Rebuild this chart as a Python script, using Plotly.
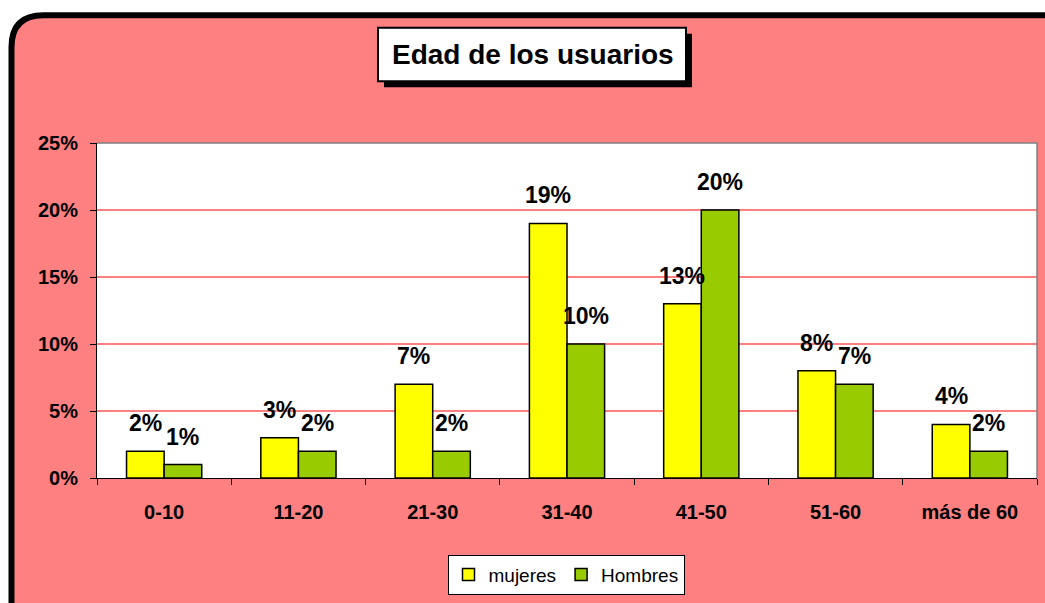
import plotly.graph_objects as go

# datos
categorias = ["0-10", "11-20", "21-30", "31-40", "41-50", "51-60", "más de 60"]
mujeres = [2, 3, 7, 19, 13, 8, 4]
hombres = [1, 2, 2, 10, 20, 7, 2]
ticks_y = [0, 5, 10, 15, 20, 25]

FUENTE = "Liberation Sans, Arial, sans-serif"
W, H = 1045, 603
L, R, T, B = 97, 8, 143, 123
PW, PH = W - L - R, H - T - B


def px(x):
    """pixel horizontal -> coordenada paper"""
    return (x - L) / PW


def py(y):
    """pixel vertical -> coordenada paper"""
    return (H - B - y) / PH


fig = go.Figure()
fig.add_trace(go.Bar(x=categorias, y=mujeres, name="mujeres",
                     marker=dict(color="#FFFF00", line=dict(color="black", width=1.5))))
fig.add_trace(go.Bar(x=categorias, y=hombres, name="Hombres",
                     marker=dict(color="#99CC00", line=dict(color="black", width=1.5))))

# etiquetas sobre las barras
for serie, dx in [(mujeres, -18.8), (hombres, 18.8)]:
    for c, v in zip(categorias, serie):
        fig.add_annotation(x=c, y=v, text=f"<b>{v}%</b>", showarrow=False,
                           xshift=dx, yshift=13, yanchor="bottom",
                           font=dict(family=FUENTE, size=23, color="black"))

# panel rosa con esquina redondeada
x0, y0, r = 11.5, 14.5, 32
panel = (f"M {px(x0)},{py(700)} L {px(x0)},{py(y0 + r)} "
         f"Q {px(x0)},{py(y0)} {px(x0 + r)},{py(y0)} "
         f"L {px(1200)},{py(y0)} L {px(1200)},{py(700)} Z")
fig.add_shape(type="path", path=panel, xref="paper", yref="paper", layer="below",
              fillcolor="#FF8080", line=dict(color="black", width=6))
# fondo blanco del area de trazado
fig.add_shape(type="rect", xref="paper", yref="paper", x0=0, y0=0, x1=1, y1=1,
              layer="below", fillcolor="white", line=dict(width=0))
# borde gris arriba y a la derecha
fig.add_shape(type="path", path="M 0,1 L 1,1 L 1,0", xref="paper", yref="paper",
              layer="above", line=dict(color="#808080", width=1.5))

# caja del titulo con sombra
bx0, by0, bx1, by1 = 378, 27, 686, 81
fig.add_shape(type="rect", xref="paper", yref="paper", layer="below",
              x0=px(bx0 + 6), y0=py(by1 + 6), x1=px(bx1 + 6), y1=py(by0 + 6),
              fillcolor="black", line=dict(width=0))
fig.add_shape(type="rect", xref="paper", yref="paper", layer="below",
              x0=px(bx0), y0=py(by1), x1=px(bx1), y1=py(by0),
              fillcolor="white", line=dict(color="black", width=2))
fig.add_annotation(x=px((bx0 + bx1) / 2 + 1), y=py((by0 + by1) / 2), xref="paper", yref="paper",
                   text="<b>Edad de los usuarios</b>", showarrow=False,
                   xanchor="center", yanchor="middle",
                   font=dict(family=FUENTE, size=28, color="black"))

fig.update_layout(
    width=W, height=H,
    margin=dict(l=L, r=R, t=T, b=B),
    paper_bgcolor="white",
    plot_bgcolor="rgba(0,0,0,0)",
    barmode="group", bargap=0.44, bargroupgap=0,
    font=dict(family=FUENTE, color="black"),
    showlegend=True,
    legend=dict(orientation="h", x=px(566), xanchor="center", y=py(557), yanchor="top",
                bgcolor="white", bordercolor="black", borderwidth=1,
                font=dict(family=FUENTE, size=19, color="black")),
)
fig.update_xaxes(type="category", tickson="boundaries", ticks="outside", ticklen=6,
                 tickcolor="black", showline=True, linecolor="black", linewidth=1,
                 showgrid=False, ticklabelstandoff=16,
                 tickfont=dict(family=FUENTE, size=20, color="black"),
                 tickprefix="<b>", ticksuffix="</b>")
fig.update_yaxes(range=[0, 25], tickvals=ticks_y, ticktext=[f"<b>{t}%</b>" for t in ticks_y],
                 ticks="outside", ticklen=6, tickcolor="black",
                 showline=True, linecolor="black", linewidth=1,
                 showgrid=True, gridcolor="#FF8080", gridwidth=1.5, zeroline=False,
                 ticklabelstandoff=8,
                 tickfont=dict(family=FUENTE, size=20, color="black"))

# sin margen del body para que la figura empiece en (0, 0)
fig.write_html("out.html", config={"displayModeBar": False},
               post_script="document.body.style.margin='0px';")
